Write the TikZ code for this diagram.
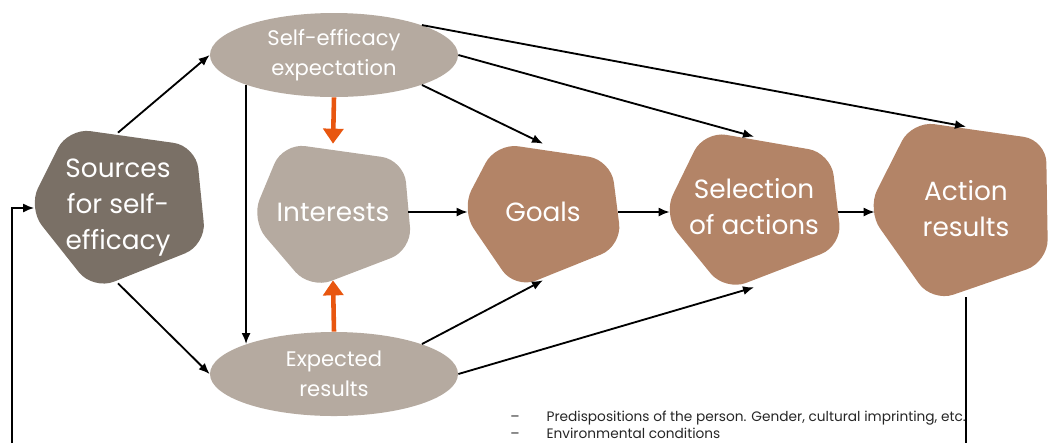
\documentclass[tikz,border=0pt]{standalone}
\usepackage{fontspec}
\setmainfont{Poppins}
\usepackage{tikz}
\usepackage{xcolor}
\usetikzlibrary{arrows.meta, shapes, positioning}
\definecolor{darktaupe}{HTML}{7A7066}
\definecolor{lighttaupe}{HTML}{B5AAA0}
\definecolor{clay}{HTML}{B38467}
\definecolor{signal}{HTML}{E8560F}

\begin{document}
\begin{tikzpicture}[x=0.2mm, y=-0.2mm,
	blobtext/.style={rectangle, inner sep=0, align=center, text=white, font=\fontsize{15}{20.5}\selectfont},
	oval/.style={ellipse, fill=lighttaupe, inner sep=0, minimum width=49.6mm, minimum height=16.8mm, align=center, text=white, font=\fontsize{12}{17}\selectfont},
	arr/.style={-{Latex[length=2.2mm, width=1.8mm]}, line width=1.05pt},
	push/.style={-{Triangle[length=3mm, width=4mm]}, line width=2.6pt, signal}]
		\useasboundingbox (0,0) rectangle (1048,443);
		
		\fill[darktaupe, rounded corners=4.5mm] (68,128) -- (196,146) -- (206,245) -- (93,290) -- (28,208) -- cycle;
		\fill[lighttaupe, rounded corners=4.5mm] (283,143) -- (404,160) -- (412,250) -- (310,289) -- (251,220) -- cycle;
		\fill[clay, rounded corners=4.5mm] (496,143) -- (611,160) -- (622,246) -- (515,289) -- (461,210) -- cycle;
		\fill[clay, rounded corners=4.5mm] (704,131) -- (831,153) -- (842,246) -- (725,291) -- (663,215) -- cycle;
		\fill[clay, rounded corners=4.5mm] (912,121) -- (1046,140) -- (1048,262) -- (932,302) -- (867,210) -- cycle;
		
		\node[blobtext, minimum width=33.4mm, minimum height=30mm] at (118,208) (sources) {Sources\\for self-\\efficacy};
		\node[blobtext, minimum width=30mm, minimum height=27.2mm] at (333,212) (interests) {Interests};
		\node[blobtext, minimum width=30mm, minimum height=27.2mm] at (543,212) (goals) {Goals};
		\node[blobtext, minimum width=33.6mm, minimum height=30mm] at (754,212) (selection) {Selection\\of actions\\[-13.7pt]};
		\node[blobtext, minimum width=36.4mm, minimum height=34mm] at (966,212) (action) {Action\\results\\[-17pt]};
		
		\node[oval] at (334,55) (selfeff) {Self-efficacy\\expectation};
		\node[oval] at (334,374) (expres) {Expected\\results};
		
		\node[anchor=north west, inner sep=0, text=black!85, font=\fontsize{7.8}{9.4}\selectfont] at (510,410) (notes) {\begin{tabular}{@{}l@{\hspace{5.4mm}}l@{}}--&Predispositions of the person. Gender, cultural imprinting, etc.\\--&Environmental conditions\end{tabular}};
		
		\coordinate (loopstart) at (12,443);
		\coordinate (loopend) at (966,443);
		
		\path[arr] (sources.north) edge (selfeff.west);
		\path[arr] (sources.south) edge (expres.west);
		\path[arr] (selfeff.south west) edge (expres.north west);
		\path[arr] (selfeff.south east) edge (goals.north);
		\path[arr] (selfeff.east) edge (selection.north);
		\path[arr] (selfeff.north east) edge (action.north);
		\path[arr] (expres.north east) edge (goals.south);
		\path[arr] (expres.east) edge (selection.south);
		\path[arr] (interests) edge (goals);
		\path[arr] (goals) edge (selection);
		\path[arr] (selection) edge (action);
		\path[push] (selfeff.south) edge (interests.north);
		\path[push] (expres.north) edge (interests.south);
		\draw[arr] (loopstart) |- (sources.west);
		\draw[line width=1.05pt] (action.south) -- (loopend);
	\end{tikzpicture}
\end{document}
